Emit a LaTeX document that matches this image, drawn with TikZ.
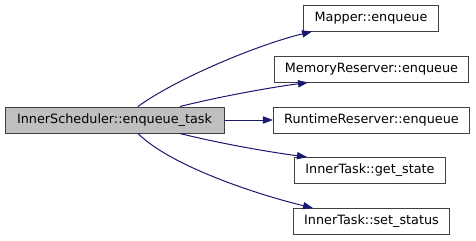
\documentclass[tikz,border=0pt]{standalone}
\usepackage{fontspec}
\setmainfont{DejaVu Sans}
\usepackage{xcolor}
\usepackage{tikz}
\usetikzlibrary{arrows.meta,calc}
\definecolor{edgeblue}{HTML}{191970}
\definecolor{boxgray}{HTML}{BFBFBF}
\definecolor{boxline}{HTML}{404040}

\tikzset{
  fn/.style={draw=boxline, fill=white, line width=0.025cm, rectangle,
    inner xsep=0.27cm, inner ysep=0cm, minimum height=0.65cm,
    font=\fontsize{9.1}{11}\selectfont},
  call/.style={draw=edgeblue, line width=0.025cm,
    -{Triangle[length=0.25cm,width=0.18cm]}}
}

\begin{document}
\begin{tikzpicture}
\useasboundingbox (0cm,0cm) rectangle (11.9cm,-6cm);
% caller
\node[fn, fill=boxgray, minimum width=5.475cm] (task) at (2.8625cm,-3cm) {InnerScheduler::enqueue\_task};
% callees
\node[fn] (mapper) at (9.275cm,-0.45cm) {Mapper::enqueue};
\node[fn] (memres) at (9.2875cm,-1.725cm) {MemoryReserver::enqueue};
\node[fn] (runres) at (9.2875cm,-3cm) {RuntimeReserver::enqueue};
\node[fn] (state) at (9.25cm,-4.2625cm) {InnerTask::get\_state};
\node[fn] (status) at (9.2875cm,-5.5375cm) {InnerTask::set\_status};

\draw[call] ([xshift=0.5875cm]task.north) .. controls +(0.925cm,0.675cm) and +(-1.425cm,-0.35cm) .. ([xshift=-1.475cm]mapper.south);
\draw[call] ([xshift=1.6375cm]task.north) .. controls +(1cm,0.25cm) and +(-0.95cm,-0.125cm) .. ([xshift=-1.5875cm]memres.south);
\draw[call] (task.east) -- (runres.west);
\draw[call] ([xshift=1.6375cm]task.south) .. controls +(1cm,-0.25cm) and +(-0.95cm,0.125cm) .. ([xshift=-1.575cm]state.north);
\draw[call] ([xshift=0.5875cm]task.south) .. controls +(0.8cm,-0.8cm) and +(-1.45cm,0.35cm) .. ([xshift=-1.4625cm]status.north);
\end{tikzpicture}
\end{document}
